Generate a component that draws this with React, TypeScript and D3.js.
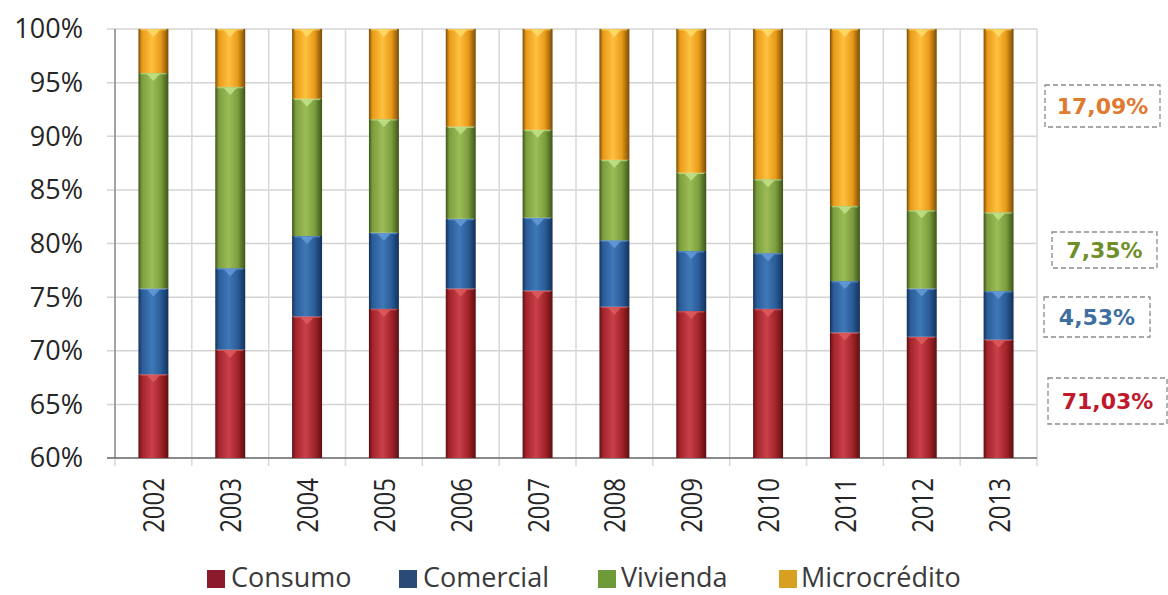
import React from 'react';
import * as d3 from 'd3';

const years = ['2002','2003','2004','2005','2006','2007','2008','2009','2010','2011','2012','2013'];
const consumo = [67.8, 70.1, 73.2, 73.9, 75.8, 75.6, 74.1, 73.7, 73.9, 71.7, 71.3, 71.03];
const comercial = [8.0, 7.6, 7.5, 7.1, 6.5, 6.8, 6.2, 5.6, 5.2, 4.8, 4.5, 4.53];
const vivienda = [20.1, 16.9, 12.8, 10.6, 8.6, 8.2, 7.5, 7.3, 6.9, 7.0, 7.3, 7.35];
const microcredito = [4.1, 5.4, 6.5, 8.4, 9.1, 9.4, 12.2, 13.4, 14.0, 16.5, 16.9, 17.09];
const seriesNames = ['Consumo', 'Comercial', 'Vivienda', 'Microcrédito'];
const yTicks = [60, 65, 70, 75, 80, 85, 90, 95, 100];
const lastLabels = ['71,03%', '4,53%', '7,35%', '17,09%'];

const W = 1168, H = 595;
const left = 115, right = 1037, top = 29, bottom = 458;

const palettes = [
  { id: 'gCons', dark: '#5e0f12', mid: '#a3242a', light: '#c9404a', hl: '#e06060', text: '#c0182c', sw: '#8a1a2c' },
  { id: 'gCom', dark: '#14305a', mid: '#2a5c98', light: '#3f78b8', hl: '#6aa0dc', text: '#3f6fa0', sw: '#2a4a78' },
  { id: 'gViv', dark: '#3c5518', mid: '#7d9e3e', light: '#9cbc58', hl: '#c8e890', text: '#6f8f2a', sw: '#6e9a3a' },
  { id: 'gMic', dark: '#7a4c08', mid: '#e89a18', light: '#ffc040', hl: '#ffe070', text: '#e07a30', sw: '#d8a020' },
];

export default function App() {
  const data = years.map((y, i) => ({
    year: y,
    Consumo: consumo[i],
    Comercial: comercial[i],
    Vivienda: vivienda[i],
    'Microcrédito': microcredito[i],
  }));
  const stack = d3.stack<any>().keys(seriesNames)(data);
  const x = d3.scaleBand().domain(years).range([left, right]).paddingInner(0.61).paddingOuter(0.305);
  const y = d3.scaleLinear().domain([60, 100]).range([bottom, top]).clamp(true);
  const bw = x.bandwidth();
  const step = x.step();
  const boundaries = years.map(yr => (x(yr) as number) - (step - bw) / 2).concat([right]);

  const labelBoxes = [
    { cy: 401, x0: 1048, x1: 1167, h: 46 },
    { cy: 317, x0: 1044, x1: 1150, h: 40 },
    { cy: 250, x0: 1052, x1: 1157, h: 36 },
    { cy: 106, x0: 1045, x1: 1160, h: 42 },
  ];

  const legendItems = [
    { x: 207, tx: 231, name: 'Consumo' },
    { x: 399, tx: 423, name: 'Comercial' },
    { x: 598, tx: 621, name: 'Vivienda' },
    { x: 779, tx: 801, name: 'Microcrédito' },
  ];

  return (
    <svg width={W} height={H} style={{ position: 'absolute', left: 0, top: 0, background: '#fff' }}
      fontFamily="'Open Sans', sans-serif">
      <defs>
        {palettes.map(p => (
          <linearGradient key={p.id} id={p.id} x1="0" x2="1" y1="0" y2="0">
            <stop offset="0" stopColor={p.dark} />
            <stop offset="0.12" stopColor={p.mid} />
            <stop offset="0.45" stopColor={p.light} />
            <stop offset="0.75" stopColor={p.mid} />
            <stop offset="1" stopColor={p.dark} />
          </linearGradient>
        ))}
      </defs>
      <rect x={0} y={0} width={W} height={H} fill="#fff" />
      {yTicks.map(t => (
        <line key={'h' + t} x1={left - 8} x2={right} y1={y(t)} y2={y(t)} stroke="#d4d4d4" strokeWidth={1.5} />
      ))}
      {boundaries.map((bx, i) => (
        <line key={'v' + i} x1={bx} x2={bx} y1={top} y2={bottom + 8} stroke="#d8d8d8" strokeWidth={1.5} />
      ))}
      <line x1={left} x2={left} y1={top} y2={bottom} stroke="#8c8c8c" strokeWidth={1.5} />
      <line x1={left - 8} x2={right} y1={bottom} y2={bottom} stroke="#6e6e6e" strokeWidth={1.5} />
      {stack.map((s, si) => (
        <g key={s.key}>
          {s.map((d, i) => {
            const yr = years[i];
            const x0 = x(yr) as number;
            const yTop = y(d[1]);
            const yBot = y(d[0]);
            const h = yBot - yTop;
            if (h <= 0) return null;
            const p = palettes[si];
            return (
              <g key={yr}>
                <rect x={x0} y={yTop} width={bw} height={h} fill={`url(#${p.id})`} />
                <line x1={x0 + 2} x2={x0 + bw - 2} y1={yTop + 0.8} y2={yTop + 0.8} stroke={p.hl} strokeWidth={1.2} opacity={0.7} />
                <path d={`M${x0 + bw * 0.28},${yTop + 1} L${x0 + bw * 0.72},${yTop + 1} L${x0 + bw * 0.5},${yTop + Math.min(8, h)} Z`}
                  fill={p.hl} opacity={0.75} />
              </g>
            );
          })}
        </g>
      ))}
      {yTicks.map(t => (
        <text key={'yl' + t} x={83} y={y(t)} dy="0.35em" textAnchor="end" fontSize={27} fill="#262626">{t}%</text>
      ))}
      {years.map(yr => {
        const cx = (x(yr) as number) + bw / 2;
        return (
          <text key={'xl' + yr} transform={`translate(${cx + 11},${bottom + 20}) rotate(-90) scale(1,1.25)`} textAnchor="end"
            fontSize={24} fill="#262626">{yr}</text>
        );
      })}
      {labelBoxes.map((b, i) => (
        <g key={'lb' + i}>
          <rect x={b.x0} y={b.cy - b.h / 2} width={b.x1 - b.x0} height={b.h} fill="#fff" stroke="#8c8c8c"
            strokeWidth={1.3} strokeDasharray="5,3" />
          <text x={(b.x0 + b.x1) / 2} y={b.cy} dy="0.36em" textAnchor="middle" fontSize={22} fontWeight="bold"
            fontFamily="'DejaVu Sans', Verdana, sans-serif" fill={palettes[i].text}>{lastLabels[i]}</text>
        </g>
      ))}
      {legendItems.map((l, i) => (
        <g key={'lg' + i}>
          <rect x={l.x} y={570} width={18} height={18} fill={palettes[i].sw} />
          <text x={l.tx} y={578} dy="0.35em" fontSize={27} fill="#3a3a3a" textLength={undefined}>{l.name}</text>
        </g>
      ))}
    </svg>
  );
}
